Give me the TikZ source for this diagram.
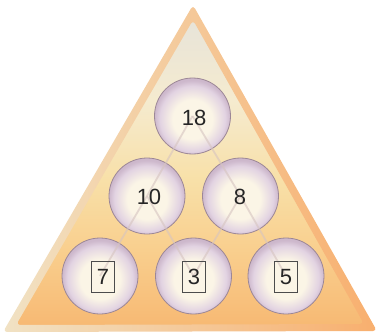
\documentclass[tikz,border=0pt]{standalone}
\usepackage{fontspec}
\setmainfont{Liberation Sans}
\definecolor{cream}{HTML}{FBF5E6}
\definecolor{lav}{HTML}{E2D3E2}
\definecolor{lavdark}{HTML}{CDB8CC}
\definecolor{ballrim}{HTML}{9C8796}
\definecolor{bordpale}{HTML}{F1E2C4}
\definecolor{bordorange}{HTML}{F8AF6E}
\definecolor{fa}{HTML}{F7B872}
\definecolor{fb}{HTML}{F9CF8E}
\definecolor{fc}{HTML}{F8E0A8}
\definecolor{fd}{HTML}{F5EBCF}
\definecolor{fe}{HTML}{E6E3DA}
\definecolor{linkcol}{HTML}{D6C4C0}
\pgfdeclareradialshading{ballshade}{\pgfpoint{0bp}{-3bp}}{color(0bp)=(cream); color(13bp)=(cream); color(21.5bp)=(lav); color(25bp)=(lavdark); color(50bp)=(lavdark)}
\pgfdeclareverticalshading{fillshade}{100bp}{color(0bp)=(fa); color(25bp)=(fa); color(37.5bp)=(fb); color(48.5bp)=(fc); color(61bp)=(fd); color(75bp)=(fe); color(100bp)=(fe)}
\tikzset{
  ball/.style={circle, minimum size=76pt, inner sep=0pt, shading=ballshade, draw=ballrim, line width=0.8pt},
  num/.style={font=\fontsize{22}{22}\selectfont, text=black!85, inner sep=0pt},
  boxed/.style={num, draw=black!70, line width=0.8pt, minimum width=23pt, minimum height=31pt},
  link/.style={linkcol, line width=1.8pt, opacity=0.6}
}
\begin{document}
\begin{tikzpicture}[x=1pt,y=-1pt]
\useasboundingbox (0,0) rectangle (379,334);
% inner fill
\shade[shading=fillshade, rounded corners=3pt]
  (193,12) -- (8,329) -- (371,328) -- cycle;
% border band
\shade[left color=bordpale, right color=bordorange, even odd rule, rounded corners=4pt]
  (193,5) -- (3,332) -- (377,331) -- cycle
  (193,20) -- (16,325) -- (364,324) -- cycle;
% balls
\node[ball] (n18) at (192.5,116) {};
\node[ball] (n10) at (147,196) {};
\node[ball] (n8) at (240.5,196) {};
\node[ball] (n7) at (100,276) {};
\node[ball] (n3) at (193.5,276) {};
\node[ball] (n5) at (286,276) {};
% links
\draw[link] (n18.center) -- (n10.center);
\draw[link] (n18.center) -- (n8.center);
\draw[link] (n10.center) -- (n7.center);
\draw[link] (n10.center) -- (n3.center);
\draw[link] (n8.center) -- (n3.center);
\draw[link] (n8.center) -- (n5.center);
% labels
\node[num] (t18) at (194,118) {18};
\node[num] (t10) at (149,197) {10};
\node[num] (t8) at (240,197) {8};
\node[boxed] (t7) at (103,277) {7};
\node[boxed] (t3) at (194,277) {3};
\node[boxed] (t5) at (286,277) {5};
\end{tikzpicture}
\end{document}
